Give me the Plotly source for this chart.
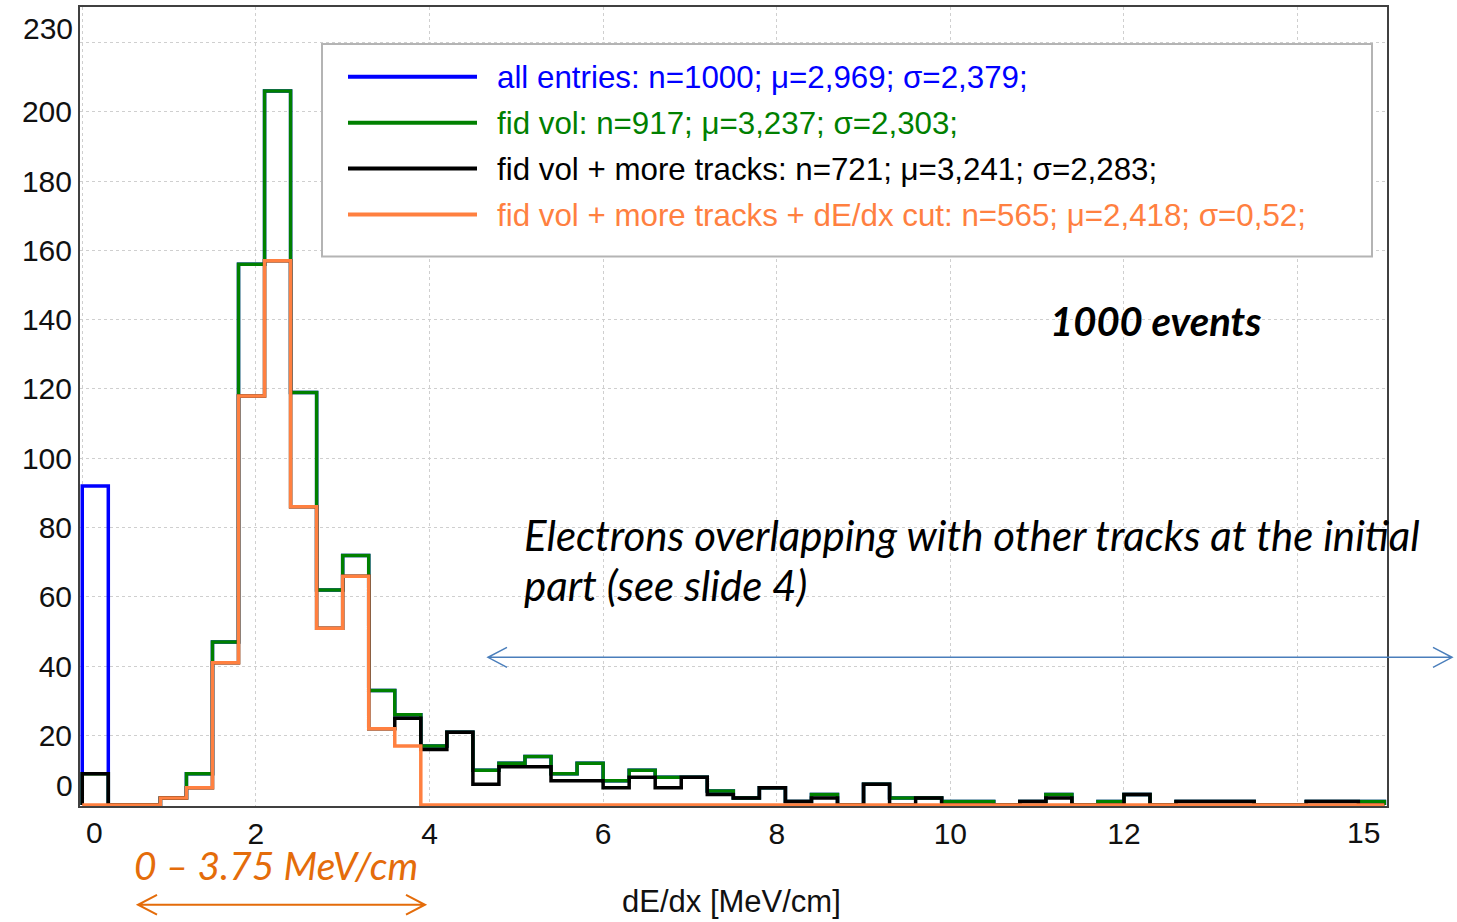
import plotly.graph_objects as go

# Histogram binning of dE/dx [MeV/cm]
bin_width = 0.3
n_bins = 50
edges = [round(i * bin_width, 2) for i in range(n_bins + 1)]

# Counts per bin for each selection
fid_vol = [9, 0, 0, 2, 9, 47, 156, 206, 119, 62, 72, 33, 26,
           17, 21, 10, 12, 14, 9, 12, 7, 10, 8, 8, 4, 2, 5, 1, 3, 0,
           6, 2, 2, 1, 1, 0, 1, 3, 0, 1, 3, 0, 1, 1, 1, 0, 0, 1, 1, 1]
all_entries = [92] + fid_vol[1:]
more_tracks = [9, 0, 0, 2, 5, 41, 118, 157, 86, 51, 66, 22, 25,
               16, 21, 6, 11, 11, 7, 7, 5, 8, 5, 8, 3, 2, 5, 1, 2, 0,
               6, 0, 2, 0, 0, 0, 1, 2, 0, 0, 3, 0, 1, 1, 1, 0, 0, 1, 1, 0]
dedx_cut = [0, 0, 0, 2, 5, 41, 118, 157, 86, 51, 66, 22, 17] + [0] * 37

series_names = [
    "all entries: n=1000; \u03bc=2,969; \u03c3=2,379;",
    "fid vol: n=917; \u03bc=3,237; \u03c3=2,303;",
    "fid vol + more tracks: n=721; \u03bc=3,241; \u03c3=2,283;",
    "fid vol + more tracks + dE/dx cut: n=565; \u03bc=2,418; \u03c3=0,52;",
]
series_values = [all_entries, fid_vol, more_tracks, dedx_cut]
series_colors = ["#0000FF", "#008000", "#000000", "#FF8040"]

x_ticks = [0, 2, 4, 6, 8, 10, 12, 14]
y_ticks = [20, 40, 60, 80, 100, 120, 140, 160, 180, 200, 220]

FONT = "Liberation Sans, Arial, sans-serif"
NOTE_FONT = "Lato, Carlito, Calibri, sans-serif"

# plot-area geometry in pixels
L, T, W_PLOT, H_PLOT = 80, 5, 1307, 801


def px(xp):
    return (xp - L) / W_PLOT


def py(yp):
    return (T + H_PLOT - yp) / H_PLOT


def step_xy(values):
    xs = [edges[0]] + edges[:-1] + [edges[-1]]
    ys = [0] + list(values) + [0]
    return xs, ys


fig = go.Figure()
for name, vals, col in zip(series_names, series_values, series_colors):
    xs, ys = step_xy(vals)
    fig.add_trace(go.Scatter(
        x=xs, y=ys, mode="lines", name=name,
        line=dict(color=col, width=3.5, shape="hv"),
        showlegend=False, hoverinfo="skip",
    ))

shapes = []
annotations = []

# legend box with line samples
shapes.append(dict(type="rect", xref="paper", yref="paper",
                   x0=px(322), x1=px(1372), y0=py(255), y1=py(42),
                   line=dict(color="#b4b4b4", width=2), fillcolor="white",
                   layer="above"))
row_y = [76, 122, 168, 214]
for name, col, ry in zip(series_names, series_colors, row_y):
    shapes.append(dict(type="line", xref="paper", yref="paper",
                       x0=px(348), x1=px(477), y0=py(ry - 1), y1=py(ry - 1),
                       line=dict(color=col, width=4), layer="above"))
    annotations.append(dict(text=name, xref="paper", yref="paper",
                            x=px(495), y=py(ry), xanchor="left", yanchor="middle",
                            showarrow=False,
                            font=dict(family=FONT, size=31.3, color=col)))

# end tick labels kept inside the frame
annotations.append(dict(text="0", xref="paper", yref="paper", x=px(75), y=py(785),
                        xanchor="right", yanchor="middle", showarrow=False,
                        font=dict(family=FONT, size=30, color="#111111")))
annotations.append(dict(text="230", xref="paper", yref="paper", x=px(75), y=py(27),
                        xanchor="right", yanchor="middle", showarrow=False,
                        font=dict(family=FONT, size=30, color="#111111")))
annotations.append(dict(text="0", xref="paper", yref="paper", x=px(94), y=py(833),
                        xanchor="center", yanchor="middle", showarrow=False,
                        font=dict(family=FONT, size=30, color="#111111")))
annotations.append(dict(text="15", xref="paper", yref="paper", x=px(1363), y=py(833),
                        xanchor="center", yanchor="middle", showarrow=False,
                        font=dict(family=FONT, size=30, color="#111111")))

# axis title
annotations.append(dict(text="dE/dx [MeV/cm]", xref="paper", yref="paper",
                        x=px(731), y=py(902), xanchor="center", yanchor="middle",
                        showarrow=False,
                        font=dict(family=FONT, size=31, color="#111111")))

# notes
annotations.append(dict(text="<b><i>1000 events</i></b>", xref="paper", yref="paper",
                        x=px(1155), y=py(320), xanchor="center", yanchor="middle",
                        showarrow=False, font=dict(family=NOTE_FONT, size=40, color="black")))
annotations.append(dict(text="<i>Electrons overlapping with other tracks at the initial</i>",
                        xref="paper", yref="paper", x=px(522), y=py(534),
                        xanchor="left", yanchor="middle", showarrow=False,
                        font=dict(family=NOTE_FONT, size=42, color="black")))
annotations.append(dict(text="<i>part (see slide 4)</i>",
                        xref="paper", yref="paper", x=px(522), y=py(584),
                        xanchor="left", yanchor="middle", showarrow=False,
                        font=dict(family=NOTE_FONT, size=42, color="black")))
annotations.append(dict(text="<i>0 \u2013 3.75 MeV/cm</i>",
                        xref="paper", yref="paper", x=px(276), y=py(865),
                        xanchor="center", yanchor="middle", showarrow=False,
                        font=dict(family=NOTE_FONT, size=39, color="#E46C0A")))


def double_arrow(x0, x1, yv, color, width, head_len=19, head_half=10):
    path = (f"M {px(x0 + head_len)},{py(yv - head_half)} L {px(x0)},{py(yv)} "
            f"L {px(x0 + head_len)},{py(yv + head_half)} "
            f"M {px(x0)},{py(yv)} L {px(x1)},{py(yv)} "
            f"M {px(x1 - head_len)},{py(yv - head_half)} L {px(x1)},{py(yv)} "
            f"L {px(x1 - head_len)},{py(yv + head_half)}")
    return dict(type="path", xref="paper", yref="paper", path=path,
                line=dict(color=color, width=width), layer="above")


shapes.append(double_arrow(488, 1452, 657, "#4A7EBB", 1.5))
shapes.append(double_arrow(138, 425, 905, "#E46C0A", 2))

fig.update_layout(
    width=1457, height=922,
    margin=dict(l=L, r=1457 - L - W_PLOT, t=T, b=922 - T - H_PLOT),
    paper_bgcolor="white", plot_bgcolor="white",
    shapes=shapes, annotations=annotations,
    xaxis=dict(range=[-0.026, 15.03], tickvals=x_ticks,
               ticktext=["", "2", "4", "6", "8", "10", "12", ""],
               showgrid=True, gridcolor="#cfcfcf", griddash="dot", gridwidth=1,
               zeroline=False, showline=True, mirror=True,
               linecolor="#404040", linewidth=2, ticks="",
               tickfont=dict(family=FONT, size=30, color="#111111")),
    yaxis=dict(range=[-0.3, 230.2], tickvals=y_ticks,
               ticktext=[str(v) if v != 220 else "" for v in y_ticks],
               showgrid=True, gridcolor="#cfcfcf", griddash="dot", gridwidth=1,
               zeroline=False, showline=True, mirror=True,
               linecolor="#404040", linewidth=2, ticks="",
               tickfont=dict(family=FONT, size=30, color="#111111")),
)

fig.write_html("out.html")
